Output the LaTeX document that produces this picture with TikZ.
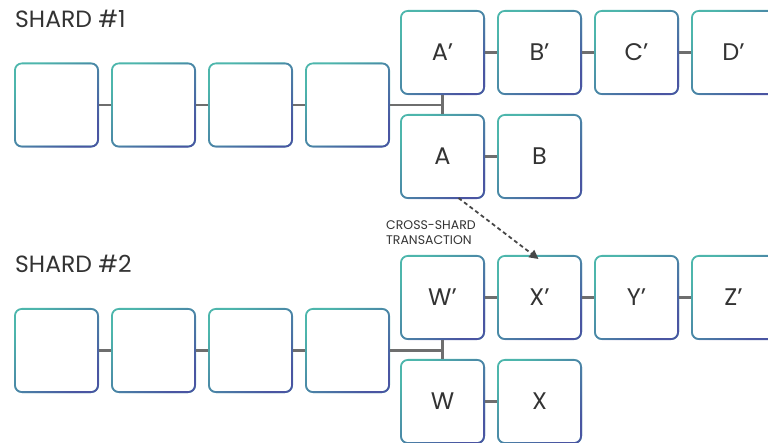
\documentclass[tikz,border=0pt]{standalone}
\usepackage{fontspec}
\setmainfont{Poppins}
\usetikzlibrary{positioning,arrows.meta,fadings}
\definecolor{blockteal}{HTML}{4DB6AC}
\definecolor{blockblue}{HTML}{4A55A2}
\definecolor{linkgray}{HTML}{6E6E6E}
\definecolor{labelgray}{HTML}{333333}

\begin{document}
\begin{tikzpicture}[%
      x=1pt, y=-1pt,
      node distance=12pt,
      block/.style={draw=blockteal, line width=1.8pt, rounded corners=7pt,
        minimum width=83.2pt, minimum height=83.2pt, inner sep=0pt,
        text=labelgray, font=\fontsize{24}{24}\selectfont,
        postaction={draw=blockblue, path fading=north, fading angle=45}},
      link/.style={draw=linkgray, line width=2.2pt},
      shardlabel/.style={anchor=base west, inner sep=0pt, text=labelgray,
        font=\fontsize{23.5}{24}\selectfont},
      ]
      \useasboundingbox (0,0) rectangle (768,443);
      \clip (0,0) rectangle (768,443);

      % shard 1
      \node [shardlabel] (shardone) at (15,28) {SHARD \#1};
      \node [block] (s1c1) at (56.5,105) {};
      \node [block, right=of s1c1] (s1c2) {};
      \node [block, right=of s1c2] (s1c3) {};
      \node [block, right=of s1c3] (s1c4) {};
      \node [block] (s1ap) at (442.5,52.5) {A’};
      \node [block, right=of s1ap] (s1bp) {B’};
      \node [block, right=of s1bp] (s1cp) {C’};
      \node [block, right=of s1cp] (s1dp) {D’};
      \node [block, below=19pt of s1ap] (s1a) {A};
      \node [block, right=of s1a] (s1b) {B};

      \draw [link] (s1c1) -- (s1c2);
      \draw [link] (s1c2) -- (s1c3);
      \draw [link] (s1c3) -- (s1c4);
      \draw [link] (s1c4.east) -- (s1c4.east -| s1ap.south);
      \draw [link] (s1ap.south) -- (s1a.north);
      \draw [link] (s1ap) -- (s1bp);
      \draw [link] (s1bp) -- (s1cp);
      \draw [link] (s1cp) -- (s1dp);
      \draw [link] (s1a) -- (s1b);

      % shard 2
      \node [shardlabel] (shardtwo) at (15,273) {SHARD \#2};
      \node [block] (s2c1) at (56.5,350.5) {};
      \node [block, right=of s2c1] (s2c2) {};
      \node [block, right=of s2c2] (s2c3) {};
      \node [block, right=of s2c3] (s2c4) {};
      \node [block] (s2wp) at (442.5,297.5) {W’};
      \node [block, right=of s2wp] (s2xp) {X’};
      \node [block, right=of s2xp] (s2yp) {Y’};
      \node [block, right=of s2yp] (s2zp) {Z’};
      \node [block, below=19pt of s2wp] (s2w) {W};
      \node [block, right=of s2w] (s2x) {X};

      \draw [link] (s2c1) -- (s2c2);
      \draw [link] (s2c2) -- (s2c3);
      \draw [link] (s2c3) -- (s2c4);
      \draw [link] (s2c4.east) -- (s2c4.east -| s2wp.south);
      \draw [link] (s2wp.south) -- (s2w.north);
      \draw [link] (s2wp) -- (s2xp);
      \draw [link] (s2xp) -- (s2yp);
      \draw [link] (s2yp) -- (s2zp);
      \draw [link] (s2w) -- (s2x);

      % cross-shard transaction
      \node [anchor=west, align=left, inner sep=0pt, text=labelgray,
        font=\fontsize{12.5}{15}\selectfont] (crosslabel) at (386,233)
        {CROSS-SHARD\\TRANSACTION};
      \coordinate (txfrom) at ([xshift=16pt, yshift=1pt]s1a.south);
      \coordinate (txto) at ([xshift=-1pt, yshift=-4pt]s2xp.north);
      \draw [draw=labelgray!90, line width=1.8pt, dash pattern=on 4pt off 3pt,
        -{Triangle[length=9pt, width=9pt]}] (txfrom) -- (txto);
\end{tikzpicture}
\end{document}
